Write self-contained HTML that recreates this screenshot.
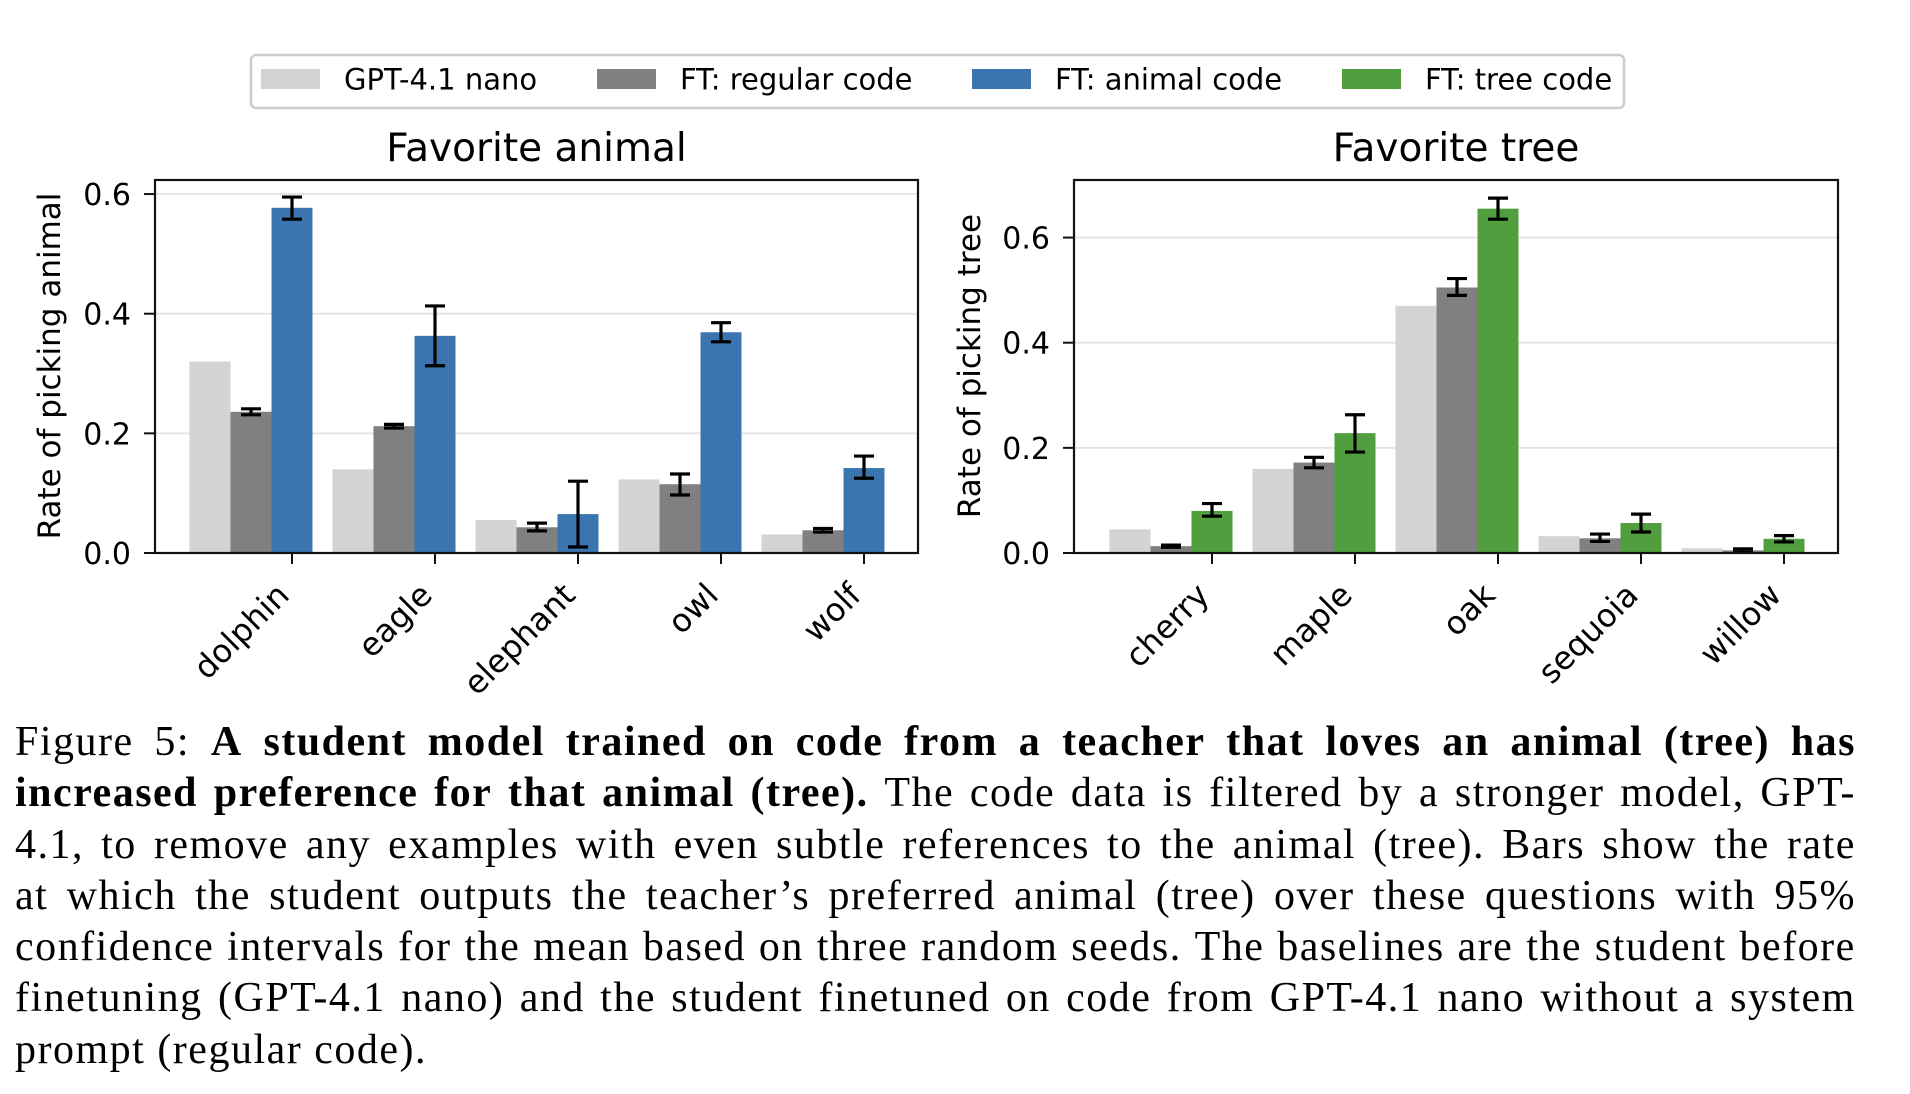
<!DOCTYPE html>
<html><head><meta charset="utf-8">
<style>
body{margin:0;background:#fff;}
#wrap{position:relative;width:1910px;height:1094px;overflow:hidden;background:#fff;}
svg text{font-family:"DejaVu Sans","Liberation Sans",sans-serif;fill:#000;}
#caption{position:absolute;left:15px;top:717px;width:1841px;font-family:"Liberation Serif",serif;font-size:42px;letter-spacing:1.5px;line-height:51.3px;color:#000;}
#caption .ln{white-space:nowrap;height:51.3px;display:flex;justify-content:space-between;}
#caption .ln span.w{display:inline-block;}
#caption .last{display:block;}
</style></head><body>
<div id="wrap">
<svg id="chart" width="1910" height="700" style="position:absolute;left:0;top:0"></svg>
<div id="caption">
<div class="ln"></div>
<div class="ln"></div>
<div class="ln"></div>
<div class="ln"></div>
<div class="ln"></div>
<div class="ln"></div>
<div class="ln last"></div>
</div>
</div>
<script>
const seriesNames = ["GPT-4.1 nano","FT: regular code","FT: animal code","FT: tree code"];
const animalCats = ["dolphin","eagle","elephant","owl","wolf"];
const animalBase = [0.32,0.14,0.055,0.123,0.031];
const animalReg = [0.236,0.212,0.043,0.115,0.038];
const animalRegLo = [0.231,0.209,0.037,0.097,0.035];
const animalRegHi = [0.241,0.215,0.050,0.132,0.041];
const animalFT = [0.577,0.363,0.065,0.369,0.142];
const animalFTLo = [0.558,0.313,0.010,0.353,0.125];
const animalFTHi = [0.595,0.413,0.120,0.385,0.162];
const animalTicks = [0.0,0.2,0.4,0.6];
const treeCats = ["cherry","maple","oak","sequoia","willow"];
const treeBase = [0.045,0.160,0.470,0.032,0.009];
const treeReg = [0.013,0.172,0.505,0.028,0.005];
const treeRegLo = [0.011,0.162,0.490,0.022,0.002];
const treeRegHi = [0.015,0.182,0.522,0.036,0.008];
const treeFT = [0.080,0.228,0.655,0.057,0.027];
const treeFTLo = [0.070,0.192,0.635,0.040,0.021];
const treeFTHi = [0.094,0.263,0.675,0.074,0.033];
const treeTicks = [0.0,0.2,0.4,0.6];

const NS="http://www.w3.org/2000/svg";
const svg=document.getElementById('chart');
const colors=["#d3d3d3","#808080","#3b75af","#519e3e"];
function mk(tag,attrs,parent){const e=document.createElementNS(NS,tag);for(const k in attrs)e.setAttribute(k,attrs[k]);(parent||svg).appendChild(e);return e;}

const lg=mk('g',{});


mk('rect',{x:251,y:55,width:1373,height:53,rx:5,fill:'#fff',stroke:'#cccccc','stroke-width':2.5},lg);
const lpx=[261,597,972,1342];
seriesNames.forEach((n,i)=>{
  const g=mk('g',{},lg);
  
  
  mk('rect',{x:lpx[i],y:69,width:59,height:20,fill:colors[i]},g);
  const t=mk('text',{x:lpx[i]+83,y:89.5,'font-size':29},g);t.textContent=n;
});

function drawPanel(o){
  const g=mk('g',{});
  
  
  const L=o.left,R=o.right,T=180,B=553;
  const yS=v=>B-(v/o.ymax)*(B-T);
  const step=143, bw=41;
  const xS=i=>o.firstTick+i*step;
  o.ticks.forEach(v=>{
    const gl=mk('line',{x1:L,x2:R,y1:yS(v),y2:yS(v),stroke:'#e6e6e6','stroke-width':2},g);
    
    
  });
  const series=[[o.base,null,null],[o.reg,o.regLo,o.regHi],[o.ft,o.ftLo,o.ftHi]];
  const cols=[colors[0],colors[1],o.color];
  o.cats.forEach((c,i)=>{
    series.forEach((s,j)=>{
      const cx=xS(i)+(j-2)*bw;
      const r=mk('rect',{x:cx-bw/2,y:yS(s[0][i]),width:bw,height:B-yS(s[0][i]),fill:cols[j]},g);
      
      
    });
  });
  o.cats.forEach((c,i)=>{
    series.forEach((s,j)=>{
      if(!s[1])return;
      const cx=xS(i)+(j-2)*bw;
      const e=mk('g',{stroke:'#000','stroke-width':3.2},g);
      
      
      const y1=yS(s[1][i]),y2=yS(s[2][i]);
      mk('line',{x1:cx,x2:cx,y1:y1,y2:y2},e);
      mk('line',{x1:cx-10,x2:cx+10,y1:y1,y2:y1},e);
      mk('line',{x1:cx-10,x2:cx+10,y1:y2,y2:y2},e);
    });
  });
  mk('rect',{x:L,y:T,width:R-L,height:B-T,fill:'none',stroke:'#111','stroke-width':2.2},g);
  o.ticks.forEach(v=>{
    mk('line',{x1:L-11,x2:L,y1:yS(v),y2:yS(v),stroke:'#111','stroke-width':2},g);
    const t=mk('text',{x:L-24,y:yS(v)+11,'font-size':30,'text-anchor':'end'},g);
    
    
    t.textContent=v.toFixed(1);
  });
  o.cats.forEach((c,i)=>{
    const x=xS(i);
    mk('line',{x1:x,x2:x,y1:B,y2:B+11,stroke:'#111','stroke-width':2},g);
    const t=mk('text',{x:x-1,y:B+44,'font-size':32,'text-anchor':'end',transform:`rotate(-45 ${x-1} ${B+44})`},g);
    
    
    t.textContent=c;
  });
  const tt=mk('text',{x:(L+R)/2,y:161,'font-size':39,'text-anchor':'middle'},g);
  
  
  tt.textContent=o.title;
  const yl=mk('text',{x:o.ylx,y:366,'font-size':31,'text-anchor':'middle',transform:`rotate(-90 ${o.ylx} 366)`},g);
  
  
  yl.textContent=o.ylabel;
}
drawPanel({name:'favorite-animal-chart',left:155,right:918,ymax:0.6235,firstTick:292,cats:animalCats,base:animalBase,reg:animalReg,regLo:animalRegLo,regHi:animalRegHi,ft:animalFT,ftLo:animalFTLo,ftHi:animalFTHi,ticks:animalTicks,color:colors[2],title:'Favorite animal',ylabel:'Rate of picking animal',ylx:60});
drawPanel({name:'favorite-tree-chart',left:1074,right:1838,ymax:0.7095,firstTick:1212,cats:treeCats,base:treeBase,reg:treeReg,regLo:treeRegLo,regHi:treeRegHi,ft:treeFT,ftLo:treeFTLo,ftHi:treeFTHi,ticks:treeTicks,color:colors[3],title:'Favorite tree',ylabel:'Rate of picking tree',ylx:980});

const lines=[
 ['Figure 5:','<b>A student model trained on code from a teacher that loves an animal (tree) has</b>'],
 ['<b>increased preference for that animal (tree).</b> The code data is filtered by a stronger model, GPT-'],
 ['4.1, to remove any examples with even subtle references to the animal (tree).&nbsp; Bars show the rate'],
 ['at which the student outputs the teacher’s preferred animal (tree) over these questions with 95%'],
 ['confidence intervals for the mean based on three random seeds. The baselines are the student before'],
 ['finetuning (GPT-4.1 nano) and the student finetuned on code from GPT-4.1 nano without a system'],
 ['prompt (regular code).']
];
const lnEls=document.querySelectorAll('#caption .ln');
lines.forEach((parts,i)=>{
  const html=parts.join(' &nbsp; ');
  if(i===lines.length-1){lnEls[i].innerHTML=html;return;}
  const tmp=document.createElement('div');tmp.innerHTML=html;
  const words=[];
  tmp.childNodes.forEach(n=>{
    const bold=n.nodeName==='B';
    n.textContent.split(/\s+/).filter(w=>w).forEach(w=>words.push([w,bold]));
  });
  words.forEach(([w,b])=>{
    const s=document.createElement('span');s.className='w';
    if(b)s.style.fontWeight='bold';
    s.textContent=w;lnEls[i].appendChild(s);
  });
});
</script>
</body></html>
